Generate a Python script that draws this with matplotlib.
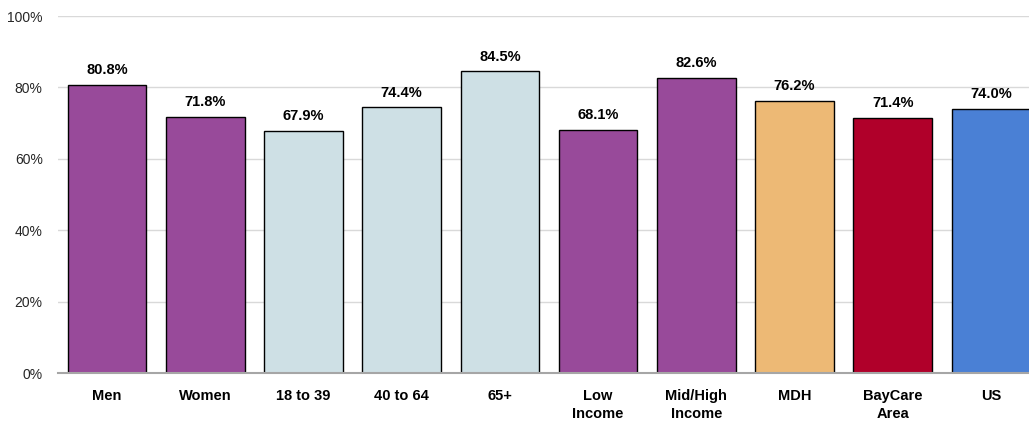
import numpy as np
import matplotlib.pyplot as plt
from matplotlib.ticker import PercentFormatter

plt.rcParams['font.family'] = ['Liberation Sans', 'DejaVu Sans']

categories = ['Men', 'Women', '18 to 39', '40 to 64', '65+', 'Low\nIncome',
              'Mid/High\nIncome', 'MDH', 'BayCare\nArea', 'US']
values = [80.8, 71.8, 67.9, 74.4, 84.5, 68.1, 82.6, 76.2, 71.4, 74.0]
colors = ['#984A9A', '#984A9A', '#CEE0E5', '#CEE0E5', '#CEE0E5', '#984A9A',
          '#984A9A', '#EDB975', '#B0002A', '#4A80D5']

fig = plt.figure(figsize=(10.29, 4.23), dpi=100)
ax = fig.add_axes([58 / 1029, 50 / 423, 982 / 1029, 357 / 423])

x = np.arange(len(categories))
bars = ax.bar(x, values, width=0.8, color=colors, edgecolor='black', linewidth=1, zorder=3)

for b, v in zip(bars, values):
    ax.annotate(f'{v:.1f}%', (b.get_x() + b.get_width() / 2, v), xytext=(0, 5.5),
                textcoords='offset points', ha='center', va='bottom',
                fontsize=10.5, fontweight='bold')

ax.set_xlim(-0.5, len(categories) - 0.5)
ax.set_ylim(0, 100)
ax.set_yticks(range(0, 101, 20))
ax.yaxis.set_major_formatter(PercentFormatter(decimals=0))
ax.set_xticks(x)
ax.set_xticklabels(categories, fontweight='bold', fontsize=10.5, linespacing=1.4)
ax.tick_params(axis='x', length=0, pad=11.5)
ax.tick_params(axis='y', length=0, pad=11, labelsize=10, labelcolor='#262626')

ax.grid(axis='y', color='#D9D9D9', linewidth=1, zorder=0)
for s in ['top', 'right', 'left']:
    ax.spines[s].set_visible(False)
ax.spines['bottom'].set_color('#A6A6A6')
ax.spines['bottom'].set_linewidth(1.5)
ax.spines['bottom'].set_zorder(4)

fig.savefig('out.png', dpi=100)
